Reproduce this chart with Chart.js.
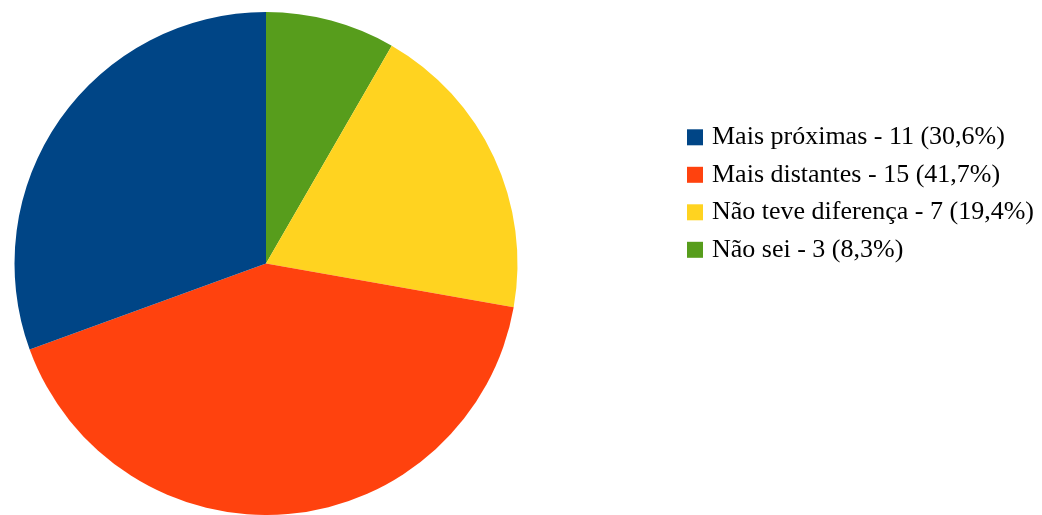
<!DOCTYPE html>
<html>
<head>
<meta charset="utf-8">
<script src="https://cdn.jsdelivr.net/npm/chart.js@4"></script>
<style>
html,body{margin:0;padding:0;background:#fff;}
#wrap{width:1042px;height:515px;position:relative;}
</style>
</head>
<body>
<div id="wrap"><canvas id="c" width="1042" height="515"></canvas></div>
<script>
// Data in legend order
const categories = ["Mais próximas", "Mais distantes", "Não teve diferença", "Não sei"];
const values = [11, 15, 7, 3];
const percentLabels = ["30,6%", "41,7%", "19,4%", "8,3%"];
const colors = ["#004586", "#ff420e", "#ffd320", "#579d1c"];

const legendLabels = categories.map((c, i) => c + " - " + values[i] + " (" + percentLabels[i] + ")");

// Reference draws counter-clockwise from the top; Chart.js goes clockwise, so reverse.
const pieLabels = categories.slice().reverse();
const pieValues = values.slice().reverse();
const pieColors = colors.slice().reverse();

const legendPlugin = {
  id: 'customLegend',
  afterDraw(chart) {
    const ctx = chart.ctx;
    ctx.save();
    ctx.font = '26px "Liberation Serif", "Times New Roman", serif';
    ctx.textBaseline = 'middle';
    ctx.textAlign = 'left';
    const x0 = 687, y0 = 137.3, step = 37.5, box = 16;
    legendLabels.forEach((t, i) => {
      const cy = y0 + i * step;
      ctx.fillStyle = colors[i];
      ctx.fillRect(x0, cy - box / 2, box, box);
      ctx.fillStyle = '#000';
      ctx.fillText(t, 712, cy);
    });
    ctx.restore();
  }
};

new Chart(document.getElementById('c'), {
  type: 'pie',
  data: {
    labels: pieLabels,
    datasets: [{
      data: pieValues,
      backgroundColor: pieColors,
      borderWidth: 0,
      hoverOffset: 0
    }]
  },
  options: {
    responsive: false,
    animation: false,
    events: [],
    layout: { padding: { left: 13, right: 523, top: 12, bottom: -2 } },
    plugins: {
      legend: { display: false },
      tooltip: { enabled: false }
    }
  },
  plugins: [legendPlugin]
});
</script>
</body>
</html>
